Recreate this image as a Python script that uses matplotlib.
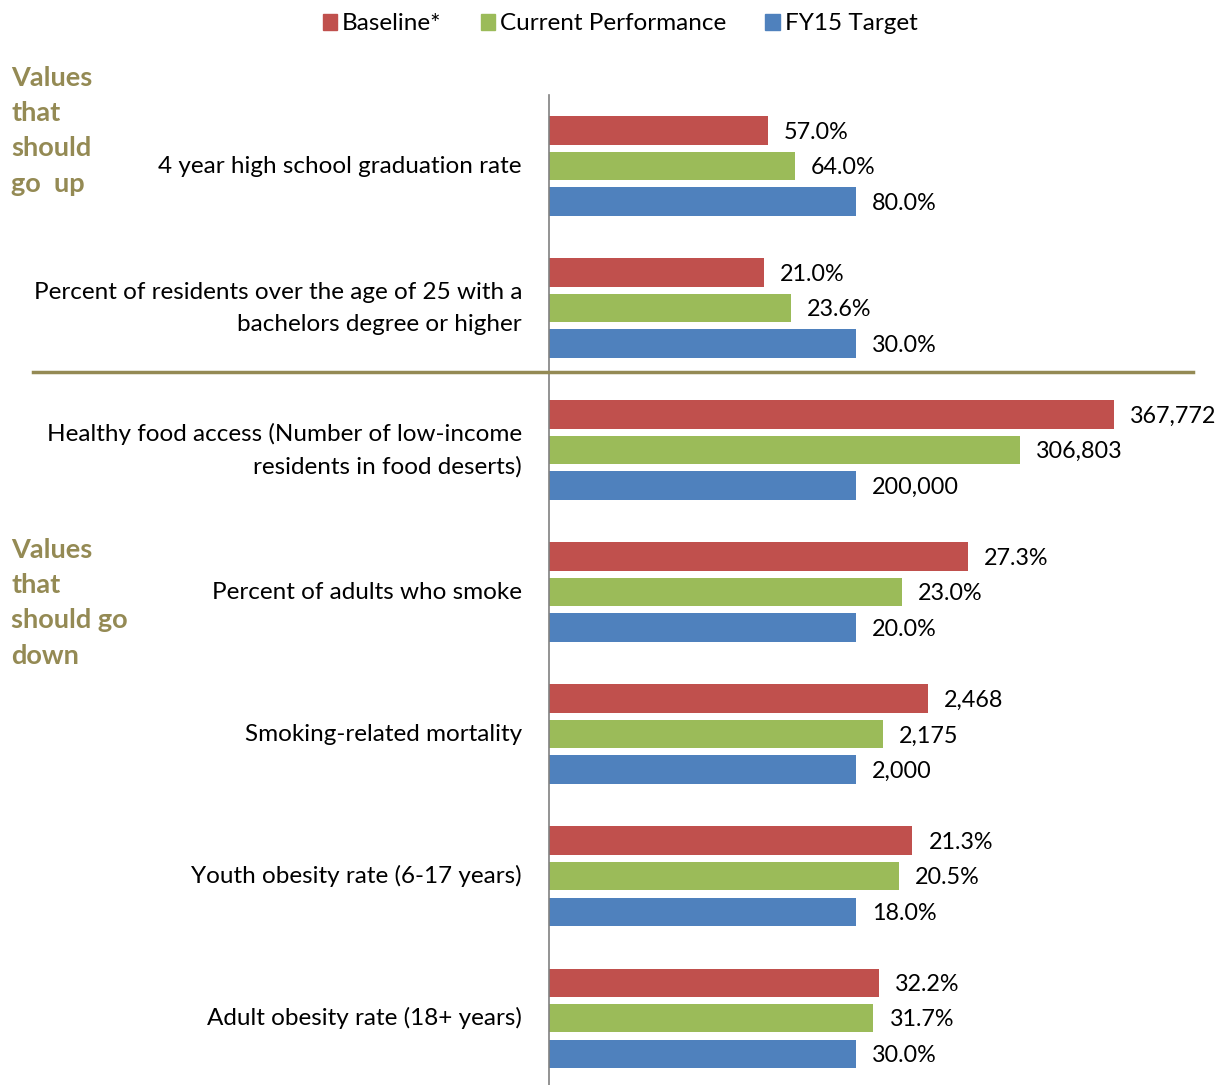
import numpy as np
import matplotlib.pyplot as plt

plt.rcParams['font.family'] = ['Lato', 'DejaVu Sans']

categories = [
    '4 year high school graduation rate',
    'Percent of residents over the age of 25 with a\nbachelors degree or higher',
    'Healthy food access (Number of low-income\nresidents in food deserts)',
    'Percent of adults who smoke',
    'Smoking-related mortality',
    'Youth obesity rate (6-17 years)',
    'Adult obesity rate (18+ years)',
]
baseline = [57.0, 21.0, 367772, 27.3, 2468, 21.3, 32.2]
current = [64.0, 23.6, 306803, 23.0, 2175, 20.5, 31.7]
target = [80.0, 30.0, 200000, 20.0, 2000, 18.0, 30.0]
is_percent = [True, True, False, True, False, True, True]

series_names = ['Baseline*', 'Current Performance', 'FY15 Target']
colors = ['#C0504D', '#9BBB59', '#4F81BD']
olive = '#948A54'


def fmt(v, pct):
    return f'{v:.1f}%' if pct else f'{v:,.0f}'


fig = plt.figure(figsize=(12.2, 10.85), dpi=100)
ax = fig.add_axes([549 / 1220, 0, 646 / 1220, 1 - 95 / 1085])

y = np.arange(len(categories))
offsets = [-0.25, 0.0, 0.25]
bar_h = 0.2

# bars scaled against each measure's FY15 target
for s, (vals, col) in enumerate(zip([baseline, current, target], colors)):
    ratio = np.array(vals) / np.array(target)
    ax.barh(y + offsets[s], ratio, height=bar_h, color=col, edgecolor='none')
    for i, r in enumerate(ratio):
        ax.text(r + 0.053, y[i] + offsets[s] + 0.012, fmt(vals[i], is_percent[i]),
                va='center', ha='left', fontsize=16.8, color='black')

ax.set_xlim(0, 646 / 307)
ax.set_ylim(6.47, -0.5)
ax.set_xticks([])
ax.set_yticks([])
for sp in ['top', 'right', 'bottom']:
    ax.spines[sp].set_visible(False)
ax.spines['left'].set_color('#808080')
ax.spines['left'].set_linewidth(1.2)

for i, cat in enumerate(categories):
    ax.text(-27 / 307, y[i], cat, ha='right', va='center', fontsize=17.5,
            linespacing=1.65, color='black')

# separator between the "up" and "down" groups
fig.add_artist(plt.Line2D([33 / 1220, 1193 / 1220], [1 - 372 / 1085] * 2,
                          color=olive, linewidth=2.5))

fig.text(11 / 1220, 1 - 66 / 1085, 'Values\nthat\nshould\ngo  up', ha='left',
         va='top', fontsize=19.5, fontweight='bold', color=olive, linespacing=1.56)
fig.text(11 / 1220, 1 - 538 / 1085, 'Values\nthat\nshould go\ndown', ha='left',
         va='top', fontsize=19.5, fontweight='bold', color=olive, linespacing=1.56)

handles = [plt.Rectangle((0, 0), 1, 1, color=c) for c in colors]
fig.legend(handles, series_names, loc='center', bbox_to_anchor=(620 / 1220, 1 - 24 / 1085),
           ncol=3, frameon=False, fontsize=17.5, handlelength=0.6, handleheight=0.6,
           handletextpad=0.2, columnspacing=1.6)

fig.savefig('out.png', dpi=100)
